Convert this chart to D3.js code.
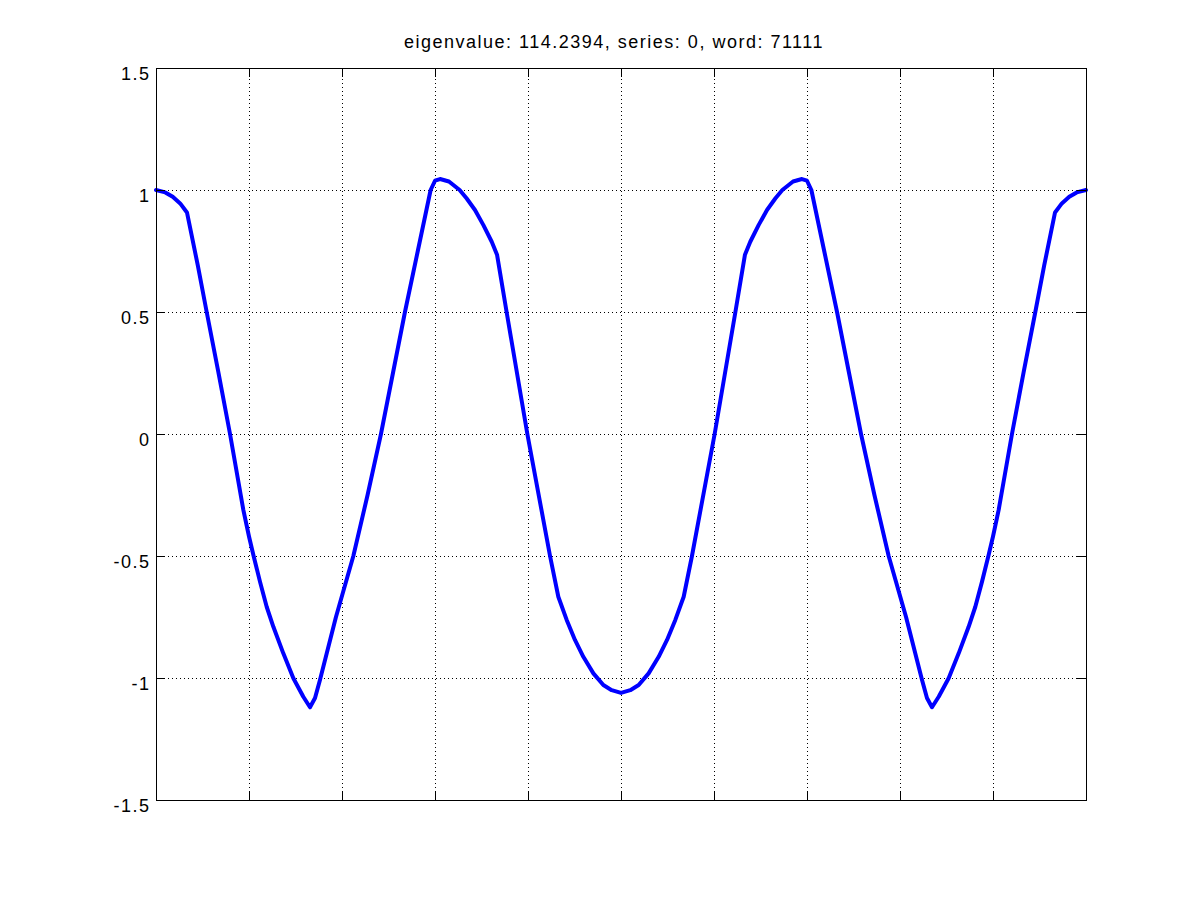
<!DOCTYPE html>
<html>
<head>
<meta charset="utf-8">
<script src="https://cdn.jsdelivr.net/npm/d3@7"></script>
<style>
  html, body { margin: 0; padding: 0; background: #fff; }
  svg text { font-family: "Liberation Sans", Arial, Helvetica, sans-serif; }
</style>
</head>
<body>
<svg id="chart" width="1200" height="900"></svg>
<script>
// ---- data ----
const titleText = "eigenvalue: 114.2394, series: 0, word: 71111";

const xValues = [
  0.0000, 0.0100, 0.0180, 0.0260, 0.0333, 0.0450, 0.0545, 0.0670, 0.0796, 0.0939,
  0.1000, 0.1047, 0.1118, 0.1190, 0.1262, 0.1369, 0.1477, 0.1584, 0.1656, 0.1710,
  0.1763, 0.1935, 0.2122, 0.2275, 0.2419, 0.2548, 0.2677, 0.2815, 0.2953, 0.3000,
  0.3054, 0.3150, 0.3265, 0.3341, 0.3430, 0.3519, 0.3610, 0.3667, 0.3770, 0.3993,
  0.4237, 0.4326, 0.4416, 0.4505, 0.4595, 0.4703, 0.4810, 0.4900, 0.5000,
  0.5100, 0.5190, 0.5297, 0.5405, 0.5495, 0.5584, 0.5674, 0.5763, 0.6007, 0.6230,
  0.6333, 0.6390, 0.6481, 0.6570, 0.6659, 0.6735, 0.6850, 0.6946, 0.7000, 0.7047,
  0.7185, 0.7323, 0.7452, 0.7581, 0.7725, 0.7878, 0.8065, 0.8237, 0.8290, 0.8344,
  0.8416, 0.8523, 0.8631, 0.8738, 0.8810, 0.8882, 0.8953, 0.9000, 0.9061, 0.9204,
  0.9330, 0.9455, 0.9550, 0.9667, 0.9740, 0.9820, 0.9900, 1.0000
];

const yValues = [
  1.000, 0.990, 0.972, 0.945, 0.908, 0.690, 0.500, 0.255, 0.000, -0.311,
  -0.420, -0.496, -0.605, -0.708, -0.790, -0.899, -1.001, -1.077, -1.120, -1.082,
  -1.008, -0.750, -0.500, -0.250, 0.000, 0.250, 0.500, 0.750, 1.000, 1.038,
  1.045, 1.035, 1.000, 0.965, 0.918, 0.857, 0.788, 0.735, 0.500, 0.000,
  -0.500, -0.667, -0.762, -0.844, -0.913, -0.981, -1.029, -1.050, -1.061,
  -1.050, -1.029, -0.981, -0.913, -0.844, -0.762, -0.667, -0.500, 0.000, 0.500,
  0.735, 0.788, 0.857, 0.918, 0.965, 1.000, 1.035, 1.045, 1.038, 1.000,
  0.750, 0.500, 0.250, 0.000, -0.250, -0.500, -0.750, -1.008, -1.082, -1.120,
  -1.077, -1.001, -0.899, -0.790, -0.708, -0.605, -0.496, -0.420, -0.311, 0.000,
  0.255, 0.500, 0.690, 0.908, 0.945, 0.972, 0.990, 1.000
];

const yTicks = [-1.5, -1, -0.5, 0, 0.5, 1, 1.5];
const yTickLabels = ["-1.5", "-1", "-0.5", "0", "0.5", "1", "1.5"];
const xTicks = [0, 0.1, 0.2, 0.3, 0.4, 0.5, 0.6, 0.7, 0.8, 0.9, 1.0];

// ---- layout ----
const mLeft = 156, mTop = 68, plotW = 930, plotH = 732;
const svg = d3.select("#chart");
svg.append("rect").attr("width", 1200).attr("height", 900).attr("fill", "#fff");

const x = d3.scaleLinear().domain([0, 1]).range([mLeft, mLeft + plotW]);
const y = d3.scaleLinear().domain([-1.5, 1.5]).range([mTop + plotH, mTop]);

// grid
const grid = svg.append("g");
grid.append("g")
  .attr("transform", `translate(0,${mTop + plotH})`)
  .call(d3.axisBottom(x).tickValues(xTicks.slice(1, -1)).tickSize(-plotH).tickFormat(""))
  .call(g => g.select(".domain").remove());
grid.append("g")
  .attr("transform", `translate(${mLeft},0)`)
  .call(d3.axisLeft(y).tickValues(yTicks.slice(1, -1)).tickSize(-plotW).tickFormat(""))
  .call(g => g.select(".domain").remove());
grid.selectAll("line")
  .attr("stroke", "#000").attr("stroke-width", 1)
  .attr("stroke-dasharray", "1,3").attr("shape-rendering", "crispEdges");

// curve
const pts = xValues.map((v, i) => [v, yValues[i]]);
svg.append("path")
  .datum(pts)
  .attr("fill", "none")
  .attr("stroke", "#0000ff")
  .attr("stroke-width", 4)
  .attr("stroke-linejoin", "round")
  .attr("stroke-linecap", "round")
  .attr("d", d3.line().x(d => x(d[0])).y(d => y(d[1])));

// axes (ticks inward on all sides)
const tickLen = 9;
const axL = svg.append("g").attr("transform", `translate(${mLeft},0)`)
  .call(d3.axisLeft(y).tickValues(yTicks).tickSize(-tickLen).tickPadding(5.5)
    .tickFormat((d, i) => yTickLabels[i]));
axL.selectAll("text")
  .attr("font-size", "18px").attr("letter-spacing", "1.5px")
  .attr("fill", "#000").attr("dy", "0.64em");
const axR = svg.append("g").attr("transform", `translate(${mLeft + plotW},0)`)
  .call(d3.axisRight(y).tickValues(yTicks).tickSize(-tickLen).tickFormat(""));
const axB = svg.append("g").attr("transform", `translate(0,${mTop + plotH})`)
  .call(d3.axisBottom(x).tickValues(xTicks).tickSize(-tickLen).tickFormat(""));
const axT = svg.append("g").attr("transform", `translate(0,${mTop})`)
  .call(d3.axisTop(x).tickValues(xTicks).tickSize(-tickLen).tickFormat(""));
[axL, axR, axB, axT].forEach(a => {
  a.selectAll("line").attr("stroke", "#000").attr("shape-rendering", "crispEdges");
  a.select(".domain").remove();
});

// box
svg.append("rect")
  .attr("x", mLeft).attr("y", mTop).attr("width", plotW).attr("height", plotH)
  .attr("fill", "none").attr("stroke", "#000").attr("stroke-width", 1)
  .attr("shape-rendering", "crispEdges");

// title
svg.append("text")
  .attr("x", 614).attr("y", 48)
  .attr("text-anchor", "middle")
  .attr("font-size", "18px").attr("letter-spacing", "1.5px")
  .attr("fill", "#000")
  .text(titleText);
</script>
</body>
</html>
